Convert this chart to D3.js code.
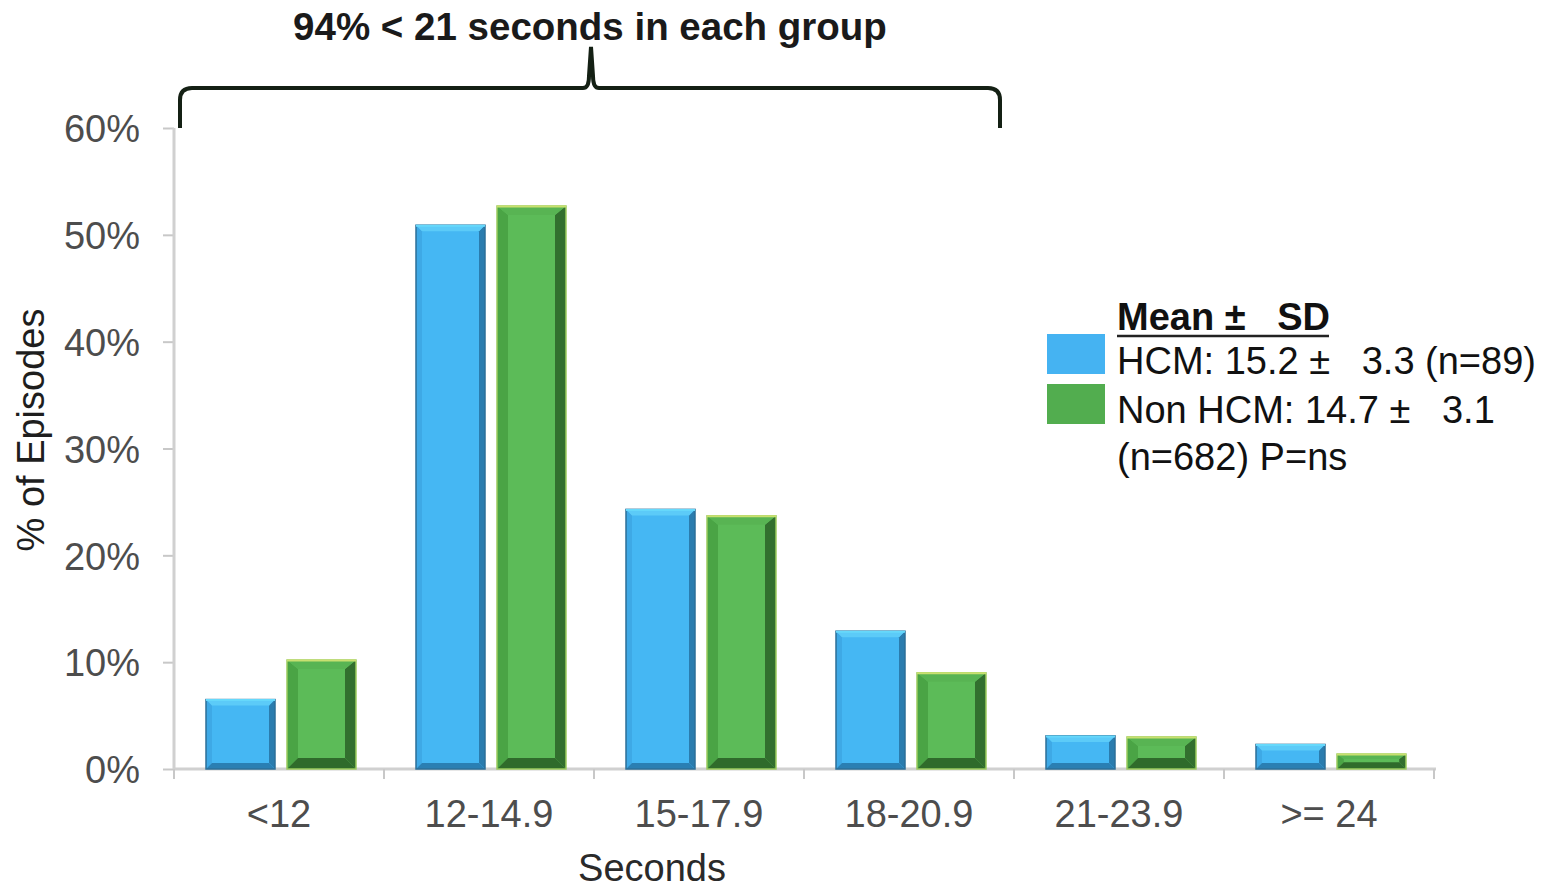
<!DOCTYPE html>
<html><head><meta charset="utf-8">
<script src="https://cdn.jsdelivr.net/npm/d3@7"></script>
<style>body{margin:0;background:#fff}svg{display:block}text{font-family:"Liberation Sans",Arial,sans-serif;white-space:pre}</style>
</head><body>
<svg id="c" width="1560" height="890"></svg>
<script>
const categories = ["<12","12-14.9","15-17.9","18-20.9","21-23.9",">= 24"];
const hcm = [6.5,50.9,24.3,12.9,3.1,2.3];
const nonHcm = [10.2,52.7,23.7,9.0,3.0,1.4];
const yTicks = [0,10,20,30,40,50,60];
const legendTitle = "Mean \u00b1   SD";
const seriesNames = ["HCM: 15.2 \u00b1   3.3 (n=89)","Non HCM: 14.7 \u00b1   3.1"];
const legendNote = "(n=682) P=ns";

const FS = 38;
const svg = d3.select("#c");
const x0 = 174, x1 = 1434, yb = 769, yt = 128;
const x = d3.scaleBand().domain(categories).range([x0,x1]);
const y = d3.scaleLinear().domain([0,60]).range([yb,yt]);

// axes
const ya = svg.append("g").attr("transform",`translate(${x0},0)`)
  .call(d3.axisLeft(y).tickValues(yTicks).tickFormat(d=>d+"%").tickSize(11).tickPadding(23));
ya.select(".domain").remove();
ya.selectAll("line").attr("stroke","#c8c8c8").attr("stroke-width",2);
ya.selectAll("text").attr("font-size",FS).attr("fill","#4d4d4d").attr("dy","0.36em");
svg.append("line").attr("x1",x0).attr("x2",x0).attr("y1",yt).attr("y2",yb).attr("stroke","#d0d0d0").attr("stroke-width",3);

const xa = svg.append("g").attr("transform",`translate(0,${yb})`)
  .call(d3.axisBottom(x).tickSize(0).tickPadding(0));
xa.select(".domain").remove();
xa.selectAll("text").attr("font-size",FS).attr("fill","#4d4d4d").attr("dy",null).attr("y",58);
svg.append("line").attr("x1",x0).attr("x2",x1+2).attr("y1",yb).attr("y2",yb).attr("stroke","#d0d0d0").attr("stroke-width",3);
const bounds = categories.map(c=>x(c)).concat([x1]);
svg.selectAll(".xt").data(bounds).enter().append("line")
  .attr("x1",d=>d).attr("x2",d=>d).attr("y1",yb).attr("y2",yb+10)
  .attr("stroke","#c8c8c8").attr("stroke-width",2);

// bars with bevel
const barW = 69;
function bevelBar(g, xl, val, cols, bv, tb){
  const yt2 = y(val), h = yb - yt2, w = barW;
  const b = Math.min(bv, h/2.2, w/2);
  const t = Math.min(tb, h/3);
  g.append("rect").attr("x",xl).attr("y",yt2).attr("width",w).attr("height",h).attr("fill",cols.face);
  g.append("polygon").attr("points",`${xl},${yt2} ${xl+b},${yt2+t} ${xl+b},${yb-b} ${xl},${yb}`).attr("fill",cols.left);
  g.append("polygon").attr("points",`${xl+w},${yt2} ${xl+w},${yb} ${xl+w-b},${yb-b} ${xl+w-b},${yt2+t}`).attr("fill",cols.right);
  g.append("polygon").attr("points",`${xl},${yb} ${xl+b},${yb-b} ${xl+w-b},${yb-b} ${xl+w},${yb}`).attr("fill",cols.bottom);
  g.append("polygon").attr("points",`${xl},${yt2} ${xl+w},${yt2} ${xl+w-b},${yt2+t} ${xl+b},${yt2+t}`).attr("fill",cols.top);
  g.append("rect").attr("x",xl).attr("y",yt2).attr("width",w).attr("height",h).attr("fill","none").attr("stroke",cols.edge).attr("stroke-width",1.5);
  g.append("line").attr("x1",xl).attr("x2",xl+w).attr("y1",yt2+0.5).attr("y2",yt2+0.5).attr("stroke",cols.topEdge).attr("stroke-width",2);
}
const blueCols = {face:"#45b7f3",top:"#5ccbf8",left:"#3ea9e6",right:"#2a7cae",bottom:"#2a7fb3",edge:"#2d6f98",topEdge:"#66d8fb"};
const greenCols = {face:"#5cbb58",top:"#58b453",left:"#4aa445",right:"#326f2e",bottom:"#2f6b2b",edge:"#9ccb5e",topEdge:"#c8e070"};
const bars = svg.append("g");
categories.forEach((c,i)=>{
  bevelBar(bars, x(c)+32, hcm[i], blueCols, 6, 6);
  bevelBar(bars, x(c)+113, nonHcm[i], greenCols, 11, 9);
});

// axis titles
svg.append("text").attr("x",652).attr("y",881).attr("text-anchor","middle").attr("font-size",FS).attr("fill","#2a2a2a").text("Seconds");
svg.append("text").attr("transform","translate(44,430) rotate(-90)").attr("text-anchor","middle").attr("font-size",FS).attr("fill","#1e1e1e").text("% of Episodes");

// bracket annotation
const bx0 = x(categories[0])+6, bx1 = x(categories[4])-14, bmid = 591, by = 88;
const br = d3.path();
br.moveTo(bx0, yt); br.lineTo(bx0, by+12); br.quadraticCurveTo(bx0, by, bx0+12, by);
br.lineTo(bmid-8, by); br.quadraticCurveTo(bmid-2, by, bmid-2, by-12); br.lineTo(bmid, 47);
br.lineTo(bmid+2, by-12); br.quadraticCurveTo(bmid+2, by, bmid+8, by);
br.lineTo(bx1-12, by); br.quadraticCurveTo(bx1, by, bx1, by+12); br.lineTo(bx1, yt);
svg.append("path").attr("d",br.toString()).attr("fill","none").attr("stroke","#142014").attr("stroke-width",4);
svg.append("text").attr("x",590).attr("y",40).attr("text-anchor","middle").attr("font-size",38.5).attr("font-weight","bold").attr("fill","#1a1a1a").text("94% < 21 seconds in each group");

// legend
const lg = svg.append("g");
lg.append("text").attr("x",1117).attr("y",330).attr("font-size",FS).attr("font-weight","bold").attr("fill","#111").text(legendTitle);
lg.append("line").attr("x1",1117).attr("x2",1329).attr("y1",336).attr("y2",336).attr("stroke","#222").attr("stroke-width",2.5);
lg.append("rect").attr("x",1047).attr("y",334).attr("width",58).attr("height",40).attr("fill","#45b3f2");
lg.append("rect").attr("x",1047).attr("y",384).attr("width",58).attr("height",40).attr("fill","#52ad4f");
lg.append("text").attr("x",1117).attr("y",374).attr("font-size",FS).attr("fill","#111").text(seriesNames[0]);
lg.append("text").attr("x",1117).attr("y",423).attr("font-size",FS).attr("fill","#111").text(seriesNames[1]);
lg.append("text").attr("x",1117).attr("y",470).attr("font-size",FS).attr("fill","#111").text(legendNote);
</script>
</body></html>
